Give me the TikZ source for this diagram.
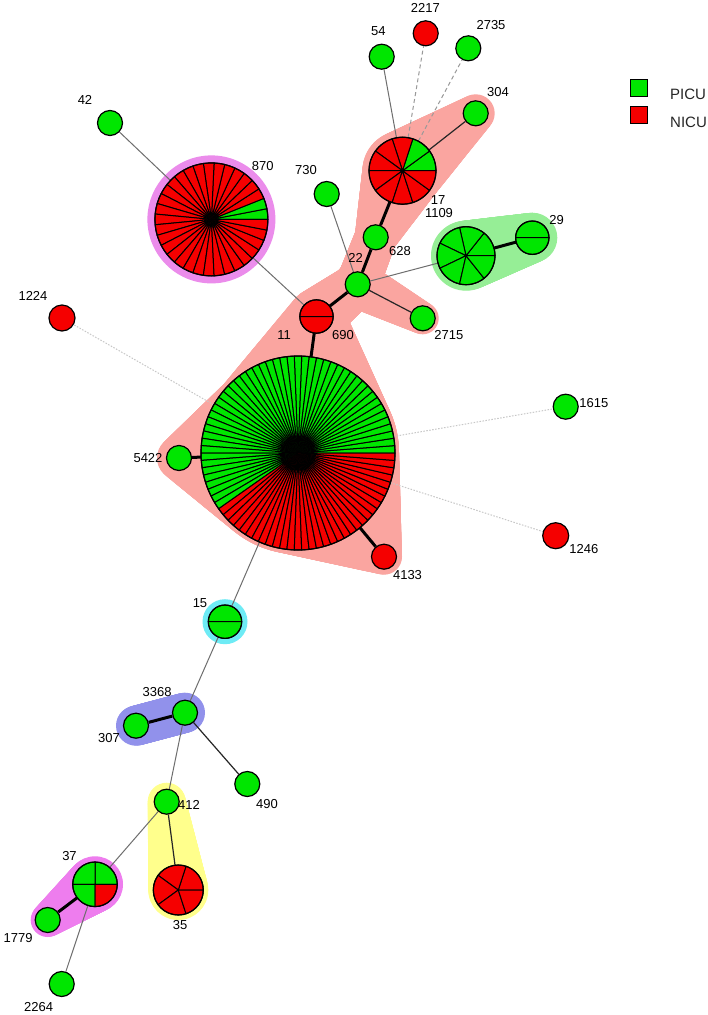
\documentclass[tikz,border=0pt]{standalone}
\usepackage{fontspec}
\setmainfont{Liberation Sans}
\definecolor{picu}{RGB}{0,230,0}
\definecolor{nicu}{RGB}{245,0,0}
\definecolor{hpink}{RGB}{250,165,160}
\definecolor{hgreen}{RGB}{150,238,150}
\definecolor{hviolet}{RGB}{235,140,235}
\definecolor{hcyan}{RGB}{110,235,245}
\definecolor{hblue}{RGB}{145,145,235}
\definecolor{hyellow}{RGB}{255,255,140}
\definecolor{hmagenta}{RGB}{238,125,238}
\definecolor{edgegray}{RGB}{110,110,110}
\pgfdeclarelayer{paper}
\pgfdeclarelayer{hull}
\pgfdeclarelayer{edges}
\pgfsetlayers{paper,hull,edges,main}
\tikzset{
  st/.style={circle, draw=black, line width=1.2pt, minimum size=25pt, inner sep=0pt},
  gst/.style={st, fill=picu},
  rst/.style={st, fill=nicu},
  pienode/.style={circle, minimum size=#1, inner sep=0pt, draw=none},
  lbl/.style={font=\fontsize{13pt}{13pt}\selectfont, inner sep=0pt, text=black},
  legtxt/.style={font=\fontsize{15pt}{15pt}\selectfont, inner sep=0pt, text=black!85},
  thinedge/.style={draw=edgegray, line width=1pt},
  darkedge/.style={draw=black!85, line width=1.2pt},
  thickedge/.style={draw=black, line width=3pt},
  dashedge/.style={draw=black!40, line width=1pt, dash pattern=on 4pt off 3pt},
  dotedge/.style={draw=black!22, line width=1pt, dash pattern=on 1.5pt off 1.5pt},
  legbox/.style={draw=black, line width=1pt, minimum size=17pt, inner sep=0pt},
}
% pie: #1 node, #2 radius, #3 slices, #4 green slices, #5 other colour
\newcommand\drawpie[5]{%
  \pgfmathsetmacro\pst{360/#3}%
  \foreach \k in {1,...,#3}{%
    \pgfmathsetmacro\pa{(\k-1)*\pst}%
    \pgfmathsetmacro\pb{\k*\pst}%
    \ifnum\k>#4\relax\def\pcol{#5}\else\def\pcol{picu}\fi
    \filldraw[fill=\pcol, draw=black, line width=1pt, line join=round]
      (#1.center) -- ++(\pa:#2pt) arc[start angle=\pa, end angle=\pb, radius=#2pt] -- cycle;
  }%
  \draw[line width=1.2pt] (#1.center) circle[radius=#2pt];
}
% tapered hull: #1 colour, x1,y1,r1, x2,y2,r2 (pixel coords, y down)
\newcommand\taper[7]{%
  \foreach \i in {0,...,60}{%
    \pgfmathsetmacro\tx{#2+(#5-#2)*\i/60}%
    \pgfmathsetmacro\ty{#3+(#6-#3)*\i/60}%
    \pgfmathsetmacro\tr{#4+(#7-#4)*\i/60}%
    \fill[#1] (\tx,-\ty) circle[radius=\tr pt];
  }%
}
\begin{document}
\begin{tikzpicture}[x=1pt,y=1pt]
\useasboundingbox (0,0) rectangle (708,-1015);
\begin{pgfonlayer}{paper}
  \fill[white] (0,0) rectangle (708,-1015);
\end{pgfonlayer}

% ---------- hulls ----------
\begin{pgfonlayer}{hull}
  \fill[hpink] (298,-453) circle[radius=101pt];
  \taper{hpink}{298}{453}{101}{179}{458}{22}
  \taper{hpink}{298}{453}{101}{384}{556.7}{18}
  \taper{hpink}{298}{453}{101}{316.5}{316.5}{28}
  \taper{hpink}{316.5}{316.5}{28}{357.7}{284.3}{22}
  \taper{hpink}{357.7}{284.3}{22}{375.7}{237.3}{21}
  \taper{hpink}{375.7}{237.3}{21}{402.5}{170.7}{40}
  \taper{hpink}{402.5}{170.7}{40}{475.7}{113.3}{19}
  \taper{hpink}{357.7}{284.3}{24}{422.7}{318.3}{16}
  \taper{hgreen}{466}{255.7}{35}{532.3}{237.7}{25}
  \fill[hviolet] (211.4,-219.4) circle[radius=64pt];
  \fill[hcyan] (225,-621.7) circle[radius=22.5pt];
  \taper{hblue}{185}{712.7}{20}{136}{725.7}{20}
  \taper{hyellow}{166.7}{801.7}{19}{178.3}{890}{30}
  \taper{hmagenta}{95}{884.3}{28}{47.7}{920}{17}
\end{pgfonlayer}

% ---------- pie nodes ----------
\node[pienode=194pt] (big) at (298,-453) {};
\node[pienode=113pt] (n870) at (211.4,-219.4) {};
\node[pienode=67pt] (n17) at (402.5,-170.7) {};
\node[pienode=58pt] (n1109) at (466,-255.7) {};
\node[pienode=33.4pt] (n29) at (532.3,-237.7) {};
\node[pienode=33.4pt] (n690) at (316.5,-316.5) {};
\node[pienode=33.4pt] (n15) at (225,-621.7) {};
\node[pienode=44.6pt] (n37) at (95,-884.3) {};
\node[pienode=50pt] (n35) at (178.3,-890) {};

\drawpie{big}{97}{82}{49}{nicu}
\drawpie{n870}{56.5}{33}{2}{nicu}
\drawpie{n17}{33.5}{10}{2}{nicu}
\drawpie{n1109}{29}{7}{7}{nicu}
\drawpie{n29}{16.7}{2}{2}{nicu}
\drawpie{n690}{16.7}{2}{0}{nicu}
\drawpie{n15}{16.7}{2}{2}{nicu}
\drawpie{n37}{22.3}{4}{3}{nicu}
\drawpie{n35}{25}{5}{0}{nicu}

% ---------- single nodes ----------
\node[gst] (n54) at (381.7,-56.7) {};
\node[rst] (n2217) at (425.7,-33.3) {};
\node[gst] (n2735) at (468.3,-48.3) {};
\node[gst] (n304) at (475.7,-113.3) {};
\node[gst] (n42) at (110,-123) {};
\node[gst] (n730) at (326.7,-194) {};
\node[gst] (n628) at (375.7,-237.3) {};
\node[gst] (n22) at (357.7,-284.3) {};
\node[gst] (n2715) at (422.7,-318.3) {};
\node[rst, minimum size=26pt] (n1224) at (62,-318) {};
\node[gst] (n1615) at (565.7,-406.7) {};
\node[rst, minimum size=26pt] (n1246) at (555.7,-535.7) {};
\node[gst] (n5422) at (179,-458) {};
\node[rst] (n4133) at (384,-556.7) {};
\node[gst] (n3368) at (185,-712.7) {};
\node[gst] (n307) at (136,-725.7) {};
\node[gst] (n490) at (247.3,-784) {};
\node[gst] (n412) at (166.7,-801.7) {};
\node[gst] (n1779) at (47.7,-920) {};
\node[gst] (n2264) at (61.7,-984) {};

% ---------- edges ----------
\begin{pgfonlayer}{edges}
  \draw[thinedge] (n42) -- (n870);
  \draw[thinedge] (n870) -- (n690);
  \draw[thinedge] (n54) -- (n17);
  \draw[thinedge] (n730) -- (n22);
  \draw[thinedge] (n22) -- (n1109);
  \draw[thinedge] (big) -- (n15);
  \draw[thinedge] (n15) -- (n3368);
  \draw[thinedge] (n3368) -- (n412);
  \draw[thinedge] (n412) -- (n37);
  \draw[thinedge] (n37) -- (n2264);
  \draw[darkedge] (n17) -- (n304);
  \draw[darkedge] (n22) -- (n2715);
  \draw[darkedge] (n3368) -- (n490);
  \draw[darkedge] (n412) -- (n35);
  \draw[thickedge] (n690) -- (big);
  \draw[thickedge] (n690) -- (n22);
  \draw[thickedge] (n22) -- (n628);
  \draw[thickedge] (n628) -- (n17);
  \draw[thickedge] (n1109) -- (n29);
  \draw[thickedge] (big) -- (n5422);
  \draw[thickedge] (big) -- (n4133);
  \draw[thickedge] (n3368) -- (n307);
  \draw[thickedge] (n37) -- (n1779);
  \draw[dashedge] (n17) -- (n2217);
  \draw[dashedge] (n17) -- (n2735);
  \draw[dotedge] (big) -- (n1224);
  \draw[dotedge] (big) -- (n1615);
  \draw[dotedge] (big) -- (n1246);
\end{pgfonlayer}

% ---------- labels ----------
\node[lbl] (l2217) at (425.3,-8) {2217};
\node[lbl] (l54) at (378.3,-30.7) {54};
\node[lbl] (l2735) at (491,-25) {2735};
\node[lbl] (l304) at (498,-92.3) {304};
\node[lbl] (l42) at (85,-100) {42};
\node[lbl] (l870) at (262.8,-165.7) {870};
\node[lbl] (l730) at (306,-170.5) {730};
\node[lbl] (l17) at (438,-200) {17};
\node[lbl] (l1109) at (439,-213) {1109};
\node[lbl] (l29) at (556.5,-220) {29};
\node[lbl] (l628) at (400,-251) {628};
\node[lbl] (l22) at (355.7,-258) {22};
\node[lbl] (l11) at (284,-335) {11};
\node[lbl] (l690) at (343,-335) {690};
\node[lbl] (l2715) at (448.8,-335) {2715};
\node[lbl] (l1224) at (33,-296) {1224};
\node[lbl] (l1615) at (593.8,-403.3) {1615};
\node[lbl] (l5422) at (148,-458) {5422};
\node[lbl] (l1246) at (583.8,-549.3) {1246};
\node[lbl] (l4133) at (407.5,-575) {4133};
\node[lbl] (l15) at (200,-603.3) {15};
\node[lbl] (l3368) at (157.2,-691.7) {3368};
\node[lbl] (l307) at (109,-738) {307};
\node[lbl] (l490) at (267,-803.8) {490};
\node[lbl] (l412) at (189,-805) {412};
\node[lbl] (l37) at (69.5,-855.7) {37};
\node[lbl] (l1779) at (18.2,-938) {1779};
\node[lbl] (l35) at (180,-925) {35};
\node[lbl] (l2264) at (38.7,-1007) {2264};

% ---------- legend ----------
\node[legbox, fill=picu] (legpicu) at (639.2,-88) {};
\node[legtxt, anchor=west] (legpicut) at (670,-94.7) {PICU};
\node[legbox, fill=nicu] (legnicu) at (639.2,-115.3) {};
\node[legtxt, anchor=west] (legnicut) at (670,-122.2) {NICU};
\end{tikzpicture}
\end{document}
